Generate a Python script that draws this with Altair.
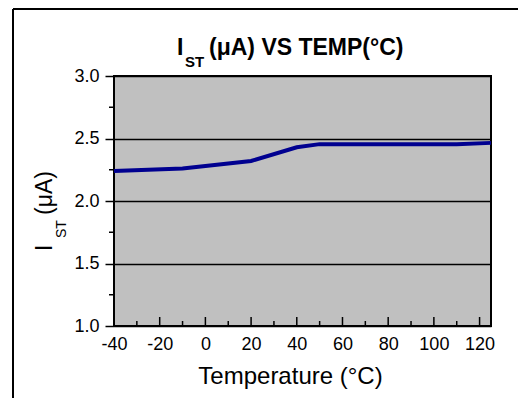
import altair as alt
import pandas as pd

# data
temps = [-40, -10, 20, 40, 50, 80, 110, 125]
ist = [2.24, 2.26, 2.32, 2.43, 2.455, 2.455, 2.455, 2.465]

x_major = [-40, -20, 0, 20, 40, 60, 80, 100, 120]
x_minor = [-30, -10, 10, 30, 50, 70, 90, 110]
y_major = [1.0, 1.5, 2.0, 2.5, 3.0]
y_minor = [1.25, 1.75, 2.25, 2.75]

title_main = ["I"]
title_sub = ["ST"]
title_rest = [" (\u03bcA) VS TEMP(\u00b0C)"]
ytitle_main = ["I"]
ytitle_sub = ["ST"]
ytitle_rest = ["(\u03bcA)"]
x_title = "Temperature (\u00b0C)"

W, H = 377, 250
FONT = "Liberation Sans"

df = pd.DataFrame({"T": temps, "I": ist})
xs = alt.Scale(domain=[-40, 125], nice=False, zero=False)
ys = alt.Scale(domain=[1.0, 3.0], nice=False, zero=False)

line = alt.Chart(df).mark_line(color="#000090", strokeWidth=4).encode(
    x=alt.X("T:Q", scale=xs,
            axis=alt.Axis(values=x_major, ticks=False, domain=False, grid=False,
                          labelExpr="'' + datum.value",
                          labelFontSize=18, labelFont=FONT, labelColor="black",
                          labelPadding=9, title=x_title, titleFont=FONT,
                          titleFontSize=24, titleFontWeight="normal",
                          titleColor="black", titleX=176, titleY=57,
                          titleBaseline="alphabetic", labelFlush=False)),
    y=alt.Y("I:Q", scale=ys,
            axis=alt.Axis(values=y_major, format=".1f", tickSize=9, tickColor="black",
                          tickWidth=1.5, domain=False, grid=True, gridColor="black",
                          gridWidth=1.5, gridOpacity=1, labelFontSize=18,
                          labelFont=FONT, labelColor="black", labelPadding=6,
                          title="")),
)

xmaj = alt.Chart(pd.DataFrame({"v": x_major})).mark_rule(color="black", strokeWidth=1.5).encode(
    x=alt.X("v:Q", scale=xs), y=alt.value(H), y2=alt.value(H - 9))
xmin = alt.Chart(pd.DataFrame({"v": x_minor})).mark_rule(color="black", strokeWidth=1.5).encode(
    x=alt.X("v:Q", scale=xs), y=alt.value(H), y2=alt.value(H - 5))
ymin = alt.Chart(pd.DataFrame({"v": y_minor})).mark_rule(color="black", strokeWidth=1.5).encode(
    y=alt.Y("v:Q", scale=ys), x=alt.value(-5), x2=alt.value(0))


def txt(lst, x, y, size, bold=False, angle=0):
    m = alt.Chart(pd.DataFrame({"t": lst})).mark_text(
        align="left", baseline="alphabetic", font=FONT, fontSize=size,
        fontWeight="bold" if bold else "normal", color="black", angle=angle)
    return m.encode(text="t:N", x=alt.value(x), y=alt.value(y))


t1 = txt(title_main, 63, -21, 23, True)
t2 = txt(title_sub, 71, -9, 15, True)
t3 = txt(title_rest, 95, -21, 23, True)
y1 = txt(ytitle_main, -62, 175, 23, angle=270)
y2 = txt(ytitle_sub, -48, 162, 14, angle=270)
y3 = txt(ytitle_rest, -62, 139, 23, angle=270)

frame_top = alt.Chart(pd.DataFrame({"a": [0]})).mark_rule(color="black", strokeWidth=2).encode(
    x=alt.value(-101), x2=alt.value(404), y=alt.value(-67))
frame_left = alt.Chart(pd.DataFrame({"a": [0]})).mark_rule(color="black", strokeWidth=2).encode(
    x=alt.value(-101), y=alt.value(-67), y2=alt.value(322))

chart = alt.layer(line, xmaj, xmin, ymin, t1, t2, t3, y1, y2, y3, frame_top, frame_left).properties(
    width=W, height=H,
    autosize=alt.AutoSizeParams(type="none"),
    padding={"left": 106, "top": 68, "right": 29, "bottom": 72},
).configure_view(fill="#C0C0C0", stroke="black", strokeWidth=2)

chart.save("out.html", embed_options={"renderer": "svg", "actions": False})
